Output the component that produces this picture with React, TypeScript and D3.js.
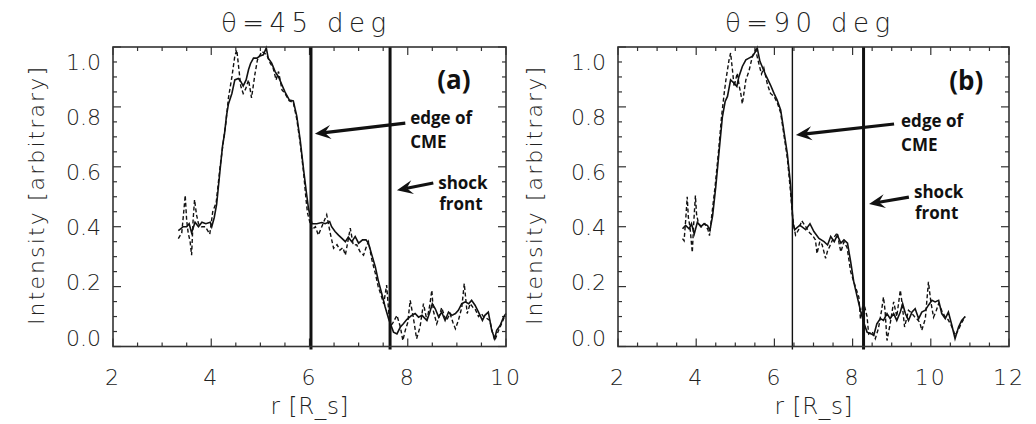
import React from "react";
import * as d3 from "d3";

// ---------- data (r [R_s], intensity) ----------
const leftSolid: [number, number][] = [
  [3.33,0.387],[3.43,0.40],[3.50,0.40],[3.55,0.41],[3.60,0.38],[3.67,0.415],[3.74,0.40],[3.81,0.415],[3.89,0.41],[3.98,0.415],
  [4.01,0.40],[4.06,0.43],[4.11,0.475],[4.18,0.59],[4.23,0.67],[4.27,0.71],[4.31,0.77],[4.35,0.81],[4.42,0.845],[4.48,0.89],
  [4.55,0.895],[4.60,0.885],[4.65,0.87],[4.71,0.89],[4.76,0.925],[4.80,0.945],[4.86,0.963],[4.93,0.963],[4.99,0.97],[5.06,0.974],
  [5.12,0.997],[5.16,0.963],[5.23,0.946],[5.30,0.918],[5.37,0.90],[5.44,0.873],[5.50,0.85],[5.59,0.823],[5.67,0.82],[5.74,0.77],
  [5.81,0.69],[5.88,0.59],[5.94,0.51],[5.98,0.46],[6.02,0.43],[6.05,0.41],[6.15,0.41],[6.25,0.414],[6.32,0.41],[6.41,0.417],
  [6.45,0.40],[6.52,0.384],[6.59,0.372],[6.66,0.361],[6.73,0.35],[6.79,0.365],[6.86,0.35],[6.93,0.367],[7.00,0.345],[7.08,0.356],
  [7.15,0.356],[7.20,0.345],[7.27,0.305],[7.34,0.266],[7.40,0.22],[7.47,0.177],[7.54,0.132],[7.61,0.093],[7.66,0.07],[7.71,0.048],
  [7.78,0.042],[7.85,0.065],[7.91,0.076],[7.98,0.09],[8.08,0.104],[8.15,0.11],[8.22,0.098],[8.29,0.104],[8.39,0.087],[8.45,0.115],
  [8.50,0.143],[8.56,0.126],[8.63,0.098],[8.69,0.115],[8.76,0.087],[8.83,0.115],[8.90,0.104],[8.97,0.11],[9.03,0.121],[9.10,0.143],
  [9.17,0.149],[9.24,0.143],[9.30,0.154],[9.37,0.138],[9.44,0.115],[9.52,0.087],[9.57,0.104],[9.64,0.115],[9.71,0.054],[9.77,0.026],
  [9.81,0.054],[9.88,0.07],[9.95,0.098],[10.0,0.11]
];
const leftDashed: [number, number][] = [
  [3.33,0.36],[3.40,0.38],[3.44,0.45],[3.47,0.505],[3.50,0.42],[3.53,0.38],[3.57,0.35],[3.60,0.305],[3.63,0.42],[3.66,0.49],
  [3.70,0.44],[3.74,0.41],[3.80,0.40],[3.88,0.40],[3.97,0.375],[4.03,0.45],[4.10,0.48],[4.18,0.60],[4.25,0.69],[4.30,0.75],
  [4.35,0.83],[4.42,0.90],[4.48,0.97],[4.52,0.99],[4.56,0.93],[4.60,0.87],[4.65,0.845],[4.70,0.86],[4.76,0.89],[4.82,0.83],
  [4.89,0.91],[4.94,0.957],[5.03,0.985],[5.13,0.974],[5.20,0.946],[5.26,0.93],[5.32,0.89],[5.37,0.918],[5.44,0.857],[5.50,0.845],
  [5.59,0.82],[5.67,0.815],[5.74,0.76],[5.81,0.68],[5.88,0.58],[5.93,0.49],[5.96,0.445],[6.00,0.42],[6.05,0.39],[6.12,0.40],
  [6.18,0.372],[6.25,0.40],[6.35,0.44],[6.42,0.38],[6.49,0.328],[6.56,0.34],[6.62,0.322],[6.68,0.33],[6.73,0.305],[6.78,0.35],
  [6.83,0.395],[6.89,0.339],[6.96,0.34],[7.03,0.316],[7.10,0.305],[7.15,0.33],[7.20,0.35],[7.27,0.289],[7.34,0.244],[7.40,0.199],
  [7.46,0.17],[7.51,0.143],[7.57,0.205],[7.61,0.121],[7.64,0.065],[7.70,0.08],[7.78,0.104],[7.85,0.065],[7.90,0.02],[7.95,0.054],
  [8.00,0.08],[8.05,0.154],[8.12,0.09],[8.18,0.026],[8.25,0.065],[8.32,0.143],[8.39,0.087],[8.45,0.14],[8.49,0.188],[8.52,0.12],
  [8.59,0.076],[8.64,0.10],[8.69,0.13],[8.75,0.10],[8.79,0.087],[8.86,0.11],[8.92,0.08],[8.97,0.059],[9.03,0.087],[9.10,0.13],
  [9.15,0.21],[9.21,0.11],[9.27,0.143],[9.33,0.13],[9.37,0.126],[9.44,0.10],[9.50,0.11],[9.54,0.10],[9.60,0.095],[9.67,0.087],
  [9.72,0.05],[9.77,0.02],[9.85,0.054],[9.92,0.08],[9.98,0.104]
];
const rightSolid: [number, number][] = [
  [3.65,0.393],[3.73,0.404],[3.82,0.393],[3.88,0.41],[3.95,0.376],[4.03,0.415],[4.12,0.40],[4.20,0.41],[4.29,0.404],[4.35,0.387],
  [4.42,0.437],[4.50,0.533],[4.58,0.644],[4.67,0.767],[4.74,0.818],[4.80,0.835],[4.88,0.89],[4.97,0.879],[5.04,0.868],[5.09,0.90],
  [5.18,0.935],[5.27,0.957],[5.35,0.963],[5.44,0.969],[5.52,0.985],[5.56,0.997],[5.63,0.952],[5.72,0.924],[5.80,0.90],[5.90,0.873],
  [5.99,0.845],[6.07,0.823],[6.16,0.79],[6.24,0.722],[6.33,0.644],[6.41,0.544],[6.48,0.41],[6.52,0.39],[6.65,0.405],[6.80,0.39],
  [6.91,0.41],[7.01,0.384],[7.14,0.361],[7.27,0.35],[7.36,0.339],[7.44,0.367],[7.53,0.35],[7.61,0.372],[7.70,0.345],[7.78,0.356],
  [7.87,0.345],[7.95,0.283],[8.03,0.216],[8.12,0.165],[8.20,0.121],[8.28,0.082],[8.37,0.048],[8.48,0.042],[8.54,0.037],[8.62,0.076],
  [8.71,0.093],[8.79,0.087],[8.88,0.11],[8.96,0.093],[9.05,0.11],[9.13,0.087],[9.22,0.115],[9.28,0.143],[9.35,0.11],[9.43,0.087],
  [9.52,0.115],[9.60,0.126],[9.69,0.093],[9.77,0.115],[9.86,0.121],[9.94,0.138],[10.03,0.154],[10.11,0.149],[10.20,0.154],[10.28,0.11],
  [10.37,0.093],[10.45,0.115],[10.54,0.07],[10.62,0.026],[10.71,0.065],[10.79,0.087],[10.88,0.10]
];
const rightDashed: [number, number][] = [
  [3.65,0.36],[3.69,0.353],[3.73,0.42],[3.77,0.50],[3.80,0.43],[3.84,0.40],[3.88,0.342],[3.90,0.314],[3.94,0.42],[3.98,0.504],
  [4.01,0.44],[4.06,0.41],[4.14,0.40],[4.22,0.41],[4.30,0.39],[4.34,0.37],[4.40,0.44],[4.48,0.53],[4.57,0.65],[4.65,0.77],
  [4.72,0.85],[4.76,0.89],[4.84,0.957],[4.88,0.98],[4.93,0.92],[4.97,0.868],[5.05,0.913],[5.10,0.87],[5.14,0.845],[5.18,0.81],
  [5.27,0.89],[5.35,0.92],[5.44,0.97],[5.52,0.99],[5.61,0.94],[5.67,0.91],[5.73,0.93],[5.82,0.876],[5.90,0.845],[5.99,0.835],
  [6.07,0.815],[6.16,0.78],[6.24,0.71],[6.33,0.63],[6.41,0.52],[6.46,0.44],[6.50,0.40],[6.54,0.372],[6.62,0.39],[6.70,0.42],
  [6.80,0.40],[6.90,0.38],[6.98,0.37],[7.05,0.356],[7.09,0.31],[7.16,0.35],[7.22,0.34],[7.31,0.294],[7.36,0.32],[7.40,0.33],
  [7.50,0.36],[7.61,0.38],[7.66,0.34],[7.70,0.316],[7.78,0.35],[7.86,0.33],[7.95,0.25],[8.07,0.20],[8.16,0.165],[8.20,0.093],
  [8.28,0.149],[8.37,0.10],[8.41,0.042],[8.50,0.05],[8.58,0.026],[8.66,0.06],[8.74,0.12],[8.79,0.165],[8.83,0.12],[8.88,0.02],
  [8.96,0.075],[9.05,0.149],[9.13,0.10],[9.22,0.188],[9.26,0.15],[9.33,0.065],[9.43,0.121],[9.52,0.11],[9.58,0.10],[9.64,0.093],
  [9.72,0.08],[9.77,0.054],[9.86,0.093],[9.94,0.216],[10.00,0.15],[10.07,0.098],[10.14,0.12],[10.20,0.143],[10.28,0.12],[10.36,0.10],
  [10.44,0.09],[10.50,0.076],[10.56,0.06],[10.62,0.037],[10.70,0.054],[10.79,0.08],[10.88,0.10]
];

const yTickValues = [0, 0.2, 0.4, 0.6, 0.8, 1.0];
const leftXTicks = [2, 4, 6, 8, 10];
const rightXTicks = [2, 4, 6, 8, 10, 12];
const titles = ["\u03B8=45 deg", "\u03B8=90 deg"];
const panelLabels = ["(a)", "(b)"];
const edgeOfCME = [6.03, 6.46];
const shockFront = [7.64, 8.28];

// ---------- layout ----------
const W = 1036, H = 424;
const TOP = 47, BOTTOM = 346.5;
const FONT = "'DejaVu Sans', 'Liberation Sans', sans-serif";
const BOLD = "'Open Sans', 'Noto Sans', sans-serif";
const TXT = "#222";

type PanelCfg = {
  xDomain: [number, number];
  xRange: [number, number];
  xTicks: number[];
  solid: [number, number][];
  dashed: [number, number][];
  title: string;
  label: string;
  edge: number;
  shock: number;
  edgeThick: boolean;
  ylabelX: number;
  ann: {
    lab: [number, number];
    edgeText: [number, number];
    edgeTail: [number, number];
    edgeTip: [number, number];
    shockText: [number, number];
    shockTail: [number, number];
    shockTip: [number, number];
  };
};

const panels: PanelCfg[] = [
  {
    xDomain: [2, 10], xRange: [113, 506], xTicks: leftXTicks,
    solid: leftSolid, dashed: leftDashed, title: titles[0], label: panelLabels[0],
    edge: edgeOfCME[0], shock: shockFront[0], edgeThick: true, ylabelX: 36,
    ann: {
      lab: [8.6, 0.861], edgeText: [8.05, 0.763], edgeTail: [7.95, 0.746], edgeTip: [6.11, 0.71],
      shockText: [8.62, 0.549], shockTail: [8.52, 0.546], shockTip: [7.78, 0.522],
    },
  },
  {
    xDomain: [2, 12], xRange: [618, 1009], xTicks: rightXTicks,
    solid: rightSolid, dashed: rightDashed, title: titles[1], label: panelLabels[1],
    edge: edgeOfCME[1], shock: shockFront[1], edgeThick: false, ylabelX: 534,
    ann: {
      lab: [10.47, 0.855], edgeText: [9.24, 0.756], edgeTail: [9.06, 0.743], edgeTip: [6.55, 0.706],
      shockText: [9.57, 0.516], shockTail: [9.44, 0.499], shockTip: [8.42, 0.476],
    },
  },
];

function Arrow({ x1, y1, x2, y2 }: { x1: number; y1: number; x2: number; y2: number }) {
  const dx = x2 - x1, dy = y2 - y1;
  const len = Math.hypot(dx, dy);
  const ux = dx / len, uy = dy / len;
  const px = -uy, py = ux;
  const hl = 16, hw = 7, notch = 10;
  const bx = x2 - ux * hl, by = y2 - uy * hl;
  const nx = x2 - ux * notch, ny = y2 - uy * notch;
  const pts = [
    [x2, y2],
    [bx + px * hw, by + py * hw],
    [nx, ny],
    [bx - px * hw, by - py * hw],
  ];
  return (
    <g>
      <line x1={x1} y1={y1} x2={nx} y2={ny} stroke="#111" strokeWidth={3.2} />
      <polygon points={pts.map((p) => p.join(",")).join(" ")} fill="#111" />
    </g>
  );
}

function Panel({ cfg }: { cfg: PanelCfg }) {
  const x = d3.scaleLinear().domain(cfg.xDomain).range(cfg.xRange);
  const y = d3.scaleLinear().domain([0, 1]).range([BOTTOM, TOP]);
  const yLab = d3.scaleLinear().domain([0, 1]).range([338, 62]);
  const [x0, x1] = cfg.xRange;
  const line = d3.line<[number, number]>().x((d) => x(d[0])).y((d) => y(d[1]));
  const xMinor = d3.range(cfg.xDomain[0], cfg.xDomain[1] + 0.001, 0.5);
  const yMinor = d3.range(0, 1.0001, 0.05);
  const isMajorX = (v: number) => Math.abs(v / 2 - Math.round(v / 2)) < 1e-6;
  const isMajorY = (v: number) => Math.abs(v / 0.2 - Math.round(v / 0.2)) < 1e-6;
  const mid = (x0 + x1) / 2;
  const a = cfg.ann;
  const axisColor = "#333";
  return (
    <g>
      {/* ticks */}
      {xMinor.map((v, i) => {
        const L = isMajorX(v) ? 8 : 4;
        return (
          <g key={"xt" + i}>
            <line x1={x(v)} x2={x(v)} y1={BOTTOM} y2={BOTTOM - L} stroke={axisColor} strokeWidth={1.2} />
            <line x1={x(v)} x2={x(v)} y1={TOP} y2={TOP + L} stroke={axisColor} strokeWidth={1.2} />
          </g>
        );
      })}
      {yMinor.map((v, i) => {
        const L = isMajorY(v) ? 8 : 4;
        return (
          <g key={"yt" + i}>
            <line x1={x0} x2={x0 + L} y1={y(v)} y2={y(v)} stroke={axisColor} strokeWidth={1.2} />
            <line x1={x1} x2={x1 - L} y1={y(v)} y2={y(v)} stroke={axisColor} strokeWidth={1.2} />
          </g>
        );
      })}
      {/* data */}
      <path d={line(cfg.dashed) || ""} fill="none" stroke="#111" strokeWidth={1.4} strokeDasharray="4 2.5" />
      <path d={line(cfg.solid) || ""} fill="none" stroke="#111" strokeWidth={1.6} />
      {/* vertical markers */}
      <line x1={x(cfg.edge)} x2={x(cfg.edge)} y1={y(1.0)} y2={y(-0.01)} stroke="#111" strokeWidth={cfg.edgeThick ? 3 : 1.4} />
      <line x1={x(cfg.shock)} x2={x(cfg.shock)} y1={y(1.0)} y2={y(-0.01)} stroke="#111" strokeWidth={3} />
      {/* frame */}
      <rect x={x0} y={TOP} width={x1 - x0} height={BOTTOM - TOP} fill="none" stroke={axisColor} strokeWidth={1.6} />
      {/* tick labels */}
      {yTickValues.map((v) => (
        <text key={"yl" + v} x={x0 - 12} y={yLab(v)} textAnchor="end" dominantBaseline="central"
          fontFamily={FONT} fontWeight={200} fontSize={22} fill={TXT} textLength={35} lengthAdjust="spacingAndGlyphs">
          {v.toFixed(1)}
        </text>
      ))}
      {cfg.xTicks.map((v) => (
        <text key={"xl" + v} x={x(v)} y={377} textAnchor="middle" dominantBaseline="central"
          fontFamily={FONT} fontWeight={200} fontSize={22} fill={TXT} letterSpacing={2}>
          {String(v)}
        </text>
      ))}
      {/* titles */}
      <text x={mid - 6} y={32} textAnchor="middle" fontFamily={FONT} fontWeight={200} fontSize={26} fill={TXT}
        textLength={165} lengthAdjust="spacing">
        {cfg.title}
      </text>
      <text x={mid} y={414} textAnchor="middle" fontFamily={FONT} fontWeight={200} fontSize={23} fill={TXT}
        textLength={78} lengthAdjust="spacing">
        r [R_s]
      </text>
      <text transform={`translate(${cfg.ylabelX},${196}) rotate(-90)`} textAnchor="middle" dominantBaseline="central"
        fontFamily={FONT} fontWeight={200} fontSize={22} fill={TXT} textLength={258} lengthAdjust="spacing">
        Intensity [arbitrary]
      </text>
      {/* annotations */}
      <text x={x(a.lab[0])} y={y(a.lab[1])} fontFamily={BOLD} fontWeight={700} fontSize={26} fill="#111">
        {cfg.label}
      </text>
      <text x={x(a.edgeText[0])} y={y(a.edgeText[1])} dominantBaseline="central" fontFamily={BOLD} fontWeight={700} fontSize={17} fill="#111">
        edge of
      </text>
      <text x={x(a.edgeText[0])} y={y(a.edgeText[1]) + 24} dominantBaseline="central" fontFamily={BOLD} fontWeight={700} fontSize={17} fill="#111">
        CME
      </text>
      <Arrow x1={x(a.edgeTail[0])} y1={y(a.edgeTail[1])} x2={x(a.edgeTip[0])} y2={y(a.edgeTip[1])} />
      <text x={x(a.shockText[0])} y={y(a.shockText[1])} dominantBaseline="central" fontFamily={BOLD} fontWeight={700} fontSize={17} fill="#111">
        shock
      </text>
      <text x={x(a.shockText[0]) + 1} y={y(a.shockText[1]) + 21} dominantBaseline="central" fontFamily={BOLD} fontWeight={700} fontSize={17} fill="#111">
        front
      </text>
      <Arrow x1={x(a.shockTail[0])} y1={y(a.shockTail[1])} x2={x(a.shockTip[0])} y2={y(a.shockTip[1])} />
    </g>
  );
}

export default function App() {
  return (
    <svg width={W} height={H} style={{ position: "absolute", left: 0, top: 0, background: "#fff" }}>
      <rect x={0} y={0} width={W} height={H} fill="#fff" />
      {panels.map((p, i) => (
        <Panel key={i} cfg={p} />
      ))}
    </svg>
  );
}
